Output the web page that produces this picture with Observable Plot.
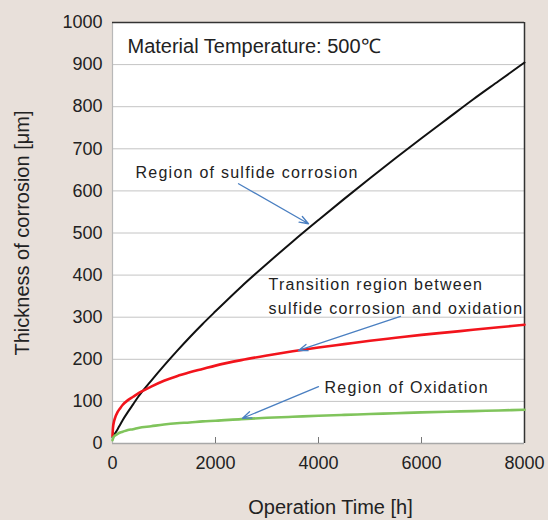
<!DOCTYPE html>
<html>
<head>
<meta charset="utf-8">
<script src="https://cdn.jsdelivr.net/npm/d3@7"></script>
<script src="https://cdn.jsdelivr.net/npm/@observablehq/plot@0.6"></script>
<style>
  html, body { margin: 0; padding: 0; background: #e8e0da; }
  #chart svg { display: block; }
</style>
</head>
<body>
<div id="chart"></div>
<script>
// Operation time [h]
const hours = [0, 10, 25, 50, 100, 150, 200, 300, 400, 500, 750, 1000, 1250, 1500, 1750, 2000, 2500, 3000, 3500, 4000, 4500, 5000, 5500, 6000, 6500, 7000, 7500, 8000];
// Thickness of corrosion [µm]
const sulfide    = [15, 17, 20, 24, 34, 45, 56, 75, 93, 111, 149, 185, 219.5, 252.5, 284, 314, 372.5, 427, 480, 531, 581, 630, 678, 725, 771, 817, 861, 905];
const transition = [18, 38, 50, 61, 75, 84, 92, 103, 111, 119, 135, 149, 160, 169, 177, 185, 198, 209, 219, 228, 236, 244, 251, 258, 264, 270, 276, 282];
const oxidation  = [8, 12, 16, 19, 23, 26, 28, 32, 34, 37, 41, 45, 48, 50, 52.5, 54, 58, 61, 63.5, 66, 68, 70, 72, 74, 75.5, 77, 78.5, 80];

const xTicks = [0, 2000, 4000, 6000, 8000];
const yTicks = [0, 100, 200, 300, 400, 500, 600, 700, 800, 900, 1000];

const xLabel = "Operation Time [h]";
const yLabel = "Thickness of corrosion [μm]";
const tempNote = "Material Temperature: 500℃";

const notes = [
  {text: "Region of sulfide corrosion", x: 447, y: 644},
  {text: "Transition region between", x: 3029, y: 377},
  {text: "sulfide corrosion and oxidation", x: 3029, y: 320},
  {text: "Region of Oxidation", x: 4117, y: 131}
];
const arrows = [
  {x1: 2447, y1: 617, x2: 3806, y2: 522},
  {x1: 5592, y1: 302, x2: 3612, y2: 221},
  {x1: 4000, y1: 135, x2: 2524, y2: 60}
];

const series = [
  {name: "sulfide", values: sulfide, color: "#111111", width: 2},
  {name: "transition", values: transition, color: "#f2141c", width: 2.6},
  {name: "oxidation", values: oxidation, color: "#80c45c", width: 2.6}
];

const font = "'Liberation Sans', Arial, sans-serif";
const fmt = d => String(d);

const chart = Plot.plot({
  width: 548,
  height: 520,
  marginLeft: 112,
  marginRight: 24,
  marginTop: 22,
  marginBottom: 77,
  style: {background: "transparent", fontFamily: font, fontSize: "18px", color: "#222"},
  x: {domain: [0, 8000], ticks: xTicks},
  y: {domain: [0, 1000], ticks: yTicks},
  marks: [
    Plot.frame({fill: "white", stroke: null}),
    Plot.ruleY(yTicks.slice(1, -1), {stroke: "#c4c4c4", strokeWidth: 1}),
    Plot.ruleX([0], {stroke: "#b8b8b8", strokeWidth: 1.2}),
    Plot.ruleY([0], {stroke: "#a8a8a8", strokeWidth: 1.5}),
    Plot.ruleY([1000], {stroke: "#333", strokeWidth: 1.5}),
    Plot.ruleX([8000], {stroke: "#333", strokeWidth: 1.5}),
    Plot.axisX({ticks: xTicks.slice(1, -1), tickSize: -6, text: null, stroke: "#777", label: null}),
    Plot.axisX({ticks: xTicks, tickSize: 0, tickPadding: 13, fontSize: 18, tickFormat: fmt, label: null, fill: "#222"}),
    Plot.axisY({ticks: yTicks, tickSize: 0, tickPadding: 10, fontSize: 18, tickFormat: fmt, label: null, fill: "#222"}),
    ...series.map(s => Plot.line(hours, {x: d => d, y: (d, i) => s.values[i], stroke: s.color, strokeWidth: s.width, curve: "monotone-x"})),
    Plot.arrow(arrows, {x1: "x1", y1: "y1", x2: "x2", y2: "y2", stroke: "#4a7fc1", strokeWidth: 1.3, headLength: 11, headAngle: 40}),
    Plot.text(notes, {x: "x", y: "y", text: "text", textAnchor: "start", fontSize: 16, fill: "#222", className: "note"}),
    Plot.text([tempNote], {frameAnchor: "top-left", dx: 15, dy: 16, textAnchor: "start", fontSize: 20, fill: "#222"}),
    Plot.text([xLabel], {frameAnchor: "bottom", dx: 12, dy: 70, textAnchor: "middle", fontSize: 20, fill: "#222"}),
    Plot.text([yLabel], {frameAnchor: "left", dx: -90, rotate: -90, textAnchor: "middle", fontSize: 20, fill: "#222"})
  ]
});
d3.select(chart).selectAll("g.note text").attr("letter-spacing", "1.25px");
document.getElementById("chart").appendChild(chart);
</script>
</body>
</html>
